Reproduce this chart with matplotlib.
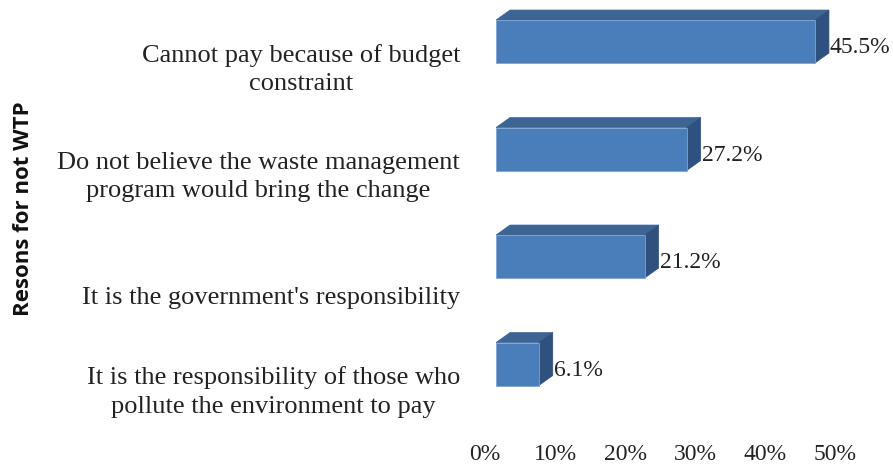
import matplotlib
matplotlib.use("Agg")
import matplotlib.pyplot as plt
from matplotlib.patches import Polygon
import matplotlib.transforms as mtrans

categories = [
    "Cannot pay because of budget\nconstraint",
    "Do not believe the waste management\nprogram would bring the change",
    "It is the government's responsibility",
    "It is the responsibility of those who\npollute the environment to pay",
]
values = [45.5, 27.2, 21.2, 6.1]
value_labels = ["45.5%", "27.2%", "21.2%", "6.1%"]
ticks = [0, 10, 20, 30, 40, 50]
tick_labels = ["0%", "10%", "20%", "30%", "40%", "50%"]
ylabel = "Resons for not WTP"

W, H, DPI = 893, 466, 100
fig = plt.figure(figsize=(W / DPI, H / DPI), dpi=DPI)

# axes placement in pixels
x0_pix, x50_pix = 496, 846.5
top_pix = 3.9
bot_pix = 417.8
ax = fig.add_axes([x0_pix / W, (H - bot_pix) / H, (x50_pix - x0_pix) / W, (bot_pix - top_pix) / H])
ax.set_xlim(0, 50)
ax.set_ylim(3.5, -0.35)
ax.axis("off")

front = "#4A7EBB"
topc = "#3D6594"
side = "#2F517F"
edge = "#7FA3CF"

ypos = list(range(len(values)))
bh = 0.4
ax.barh(ypos, values, height=bh, color=front, edgecolor=edge, linewidth=0.6, zorder=3)

# depth offsets (pixels -> data)
px_per_x = (x50_pix - x0_pix) / 50.0
px_per_y = (bot_pix - top_pix) / 3.85
dx = 14 / px_per_x
dy = 10 / px_per_y

for y, v in zip(ypos, values):
    yt = y - bh / 2
    yb = y + bh / 2
    topface = Polygon([(0, yt), (v, yt), (v + dx, yt - dy), (dx, yt - dy)],
                      closed=True, facecolor=topc, edgecolor=topc, linewidth=0.5,
                      clip_on=False, zorder=2)
    sideface = Polygon([(v, yt), (v + dx, yt - dy), (v + dx, yb - dy), (v, yb)],
                       closed=True, facecolor=side, edgecolor=side, linewidth=0.5,
                       clip_on=False, zorder=2)
    ax.add_patch(topface)
    ax.add_patch(sideface)

serif = ["Liberation Serif", "DejaVu Serif"]

# value labels
for y, v, lab in zip(ypos, values, value_labels):
    t = ax.transData + mtrans.ScaledTranslation(1 / DPI, -6 / DPI, fig.dpi_scale_trans)
    ax.text(v + dx, y, lab, transform=t, ha="left", va="center",
            fontsize=17, family=serif, color="#222222", clip_on=False)

# category labels
extra = [0, 0, 13, 0]
for y, cat, e in zip(ypos, categories, extra):
    bt = mtrans.blended_transform_factory(fig.transFigure, ax.transData)
    t = bt + mtrans.ScaledTranslation(0, -(28 + e) / DPI, fig.dpi_scale_trans)
    ax.text(460 / W, y, cat, transform=t, ha="right", va="center",
            multialignment="center", linespacing=1.36,
            fontsize=19, family=serif, color="#222222", clip_on=False)

# x tick labels
for xv, tl in zip(ticks, tick_labels):
    bt = mtrans.blended_transform_factory(ax.transData, fig.transFigure)
    t = bt + mtrans.ScaledTranslation(-11 / DPI, 0, fig.dpi_scale_trans)
    ax.text(xv, (H - 455) / H, tl, transform=t, ha="center", va="center",
            fontsize=17, family=serif, color="#222222", clip_on=False)

# y axis title
fig.text(24 / W, (H - 209) / H, ylabel, rotation=90, ha="center", va="center",
         fontsize=16, fontweight="bold", family=["Open Sans", "DejaVu Sans"], color="#111111")

fig.savefig("out.png", dpi=DPI, facecolor="white")
